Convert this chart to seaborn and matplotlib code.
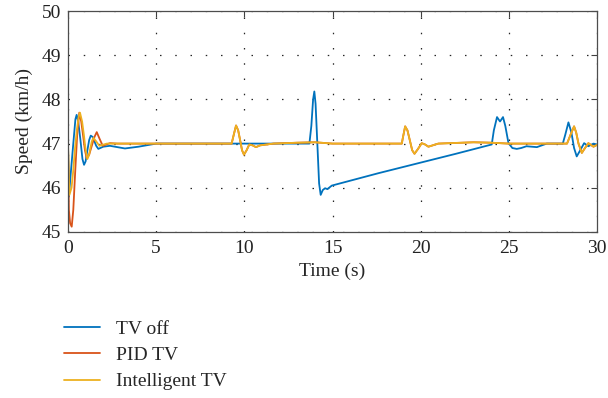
import numpy as np
import pandas as pd
import seaborn as sns
import matplotlib
matplotlib.use("Agg")
import matplotlib.pyplot as plt

# ---------------- data ----------------
series_names = ["TV off", "PID TV", "Intelligent TV"]

t_off = [0, 0.05, 0.15, 0.3, 0.42, 0.49, 0.58, 0.7, 0.82, 0.91, 1.0, 1.1, 1.2, 1.29, 1.4, 1.5, 1.6, 1.72,
         2.0, 2.38, 2.8, 3.23, 4.0, 5.0, 13.69, 13.8, 13.9, 13.97, 14.04, 14.14, 14.24, 14.33, 14.45,
         14.58, 14.71, 14.96, 17.6, 20.0, 22.0, 24.03, 24.15, 24.33, 24.5, 24.67, 24.8, 24.98, 25.2,
         25.45, 25.7, 26.0, 26.59, 27.15, 28.06, 28.2, 28.38, 28.55, 28.7, 28.85, 29.05, 29.27, 29.51,
         29.8, 30.0]
v_off = [47.0, 45.8, 46.3, 47.0, 47.55, 47.65, 47.5, 47.1, 46.65, 46.52, 46.6, 46.85, 47.08, 47.18, 47.15,
         47.05, 46.95, 46.88, 46.93, 46.95, 46.92, 46.89, 46.93, 47.0, 47.0, 47.4, 48.0, 48.18, 47.9,
         47.0, 46.1, 45.84, 45.95, 45.99, 45.97, 46.05, 46.33, 46.57, 46.77, 46.98, 47.3, 47.6, 47.5,
         47.6, 47.4, 47.01, 46.9, 46.88, 46.9, 46.94, 46.92, 47.0, 47.0, 47.2, 47.48, 47.25, 46.9,
         46.71, 46.85, 47.01, 46.94, 47.0, 46.98]

t_pid = [0, 0.05, 0.12, 0.21, 0.3, 0.4, 0.52, 0.64, 0.75, 0.85, 0.96, 1.06, 1.2, 1.35, 1.5, 1.63, 1.8,
         1.97, 2.38, 2.8, 9.28, 9.4, 9.53, 9.65, 9.75, 9.87, 9.98, 10.13, 10.28, 10.47, 10.66, 10.89,
         11.65, 13.0, 14.0, 15.0, 18.93, 19.0, 19.12, 19.25, 19.4, 19.52, 19.65, 19.85, 20.06, 20.25,
         20.44, 21.0, 23.0, 24.0, 25.0, 28.3, 28.5, 28.7, 28.82, 28.95, 29.14, 29.32, 29.51, 29.8, 30.0]
v_pid = [47.0, 45.5, 45.2, 45.12, 45.5, 46.3, 47.2, 47.7, 47.5, 47.2, 46.85, 46.67, 46.75, 46.95,
         47.15, 47.26, 47.1, 46.95, 47.01, 47.0, 47.0, 47.2, 47.41, 47.3, 47.1, 46.85, 46.75, 46.85,
         46.98, 46.96, 46.92, 46.96, 47.0, 47.02, 47.03, 47.0, 47.0, 47.15, 47.39, 47.3, 47.05, 46.85,
         46.77, 46.88, 47.01, 46.98, 46.93, 47.0, 47.03, 47.02, 47.0, 47.0, 47.2, 47.39, 47.25, 47.0,
         46.79, 46.9, 47.01, 46.93, 46.97]

t_int = [0, 0.08, 0.2, 0.3, 0.4, 0.5, 0.6, 0.68, 0.8, 0.9, 1.0, 1.1, 1.2, 1.27, 1.35, 1.44, 1.6,
         1.78, 2.2, 2.8, 9.28, 9.4, 9.53, 9.65, 9.75, 9.87, 9.98, 10.13, 10.28, 10.47, 10.66, 10.89,
         11.65, 13.0, 14.0, 15.0, 18.93, 19.0, 19.12, 19.25, 19.4, 19.52, 19.65, 19.85, 20.06, 20.25,
         20.44, 21.0, 23.0, 24.0, 25.0, 28.3, 28.5, 28.7, 28.82, 28.95, 29.14, 29.32, 29.51, 29.8, 30.0]
v_int = [47.0, 45.84, 46.0, 46.4, 46.9, 47.3, 47.6, 47.7, 47.5, 47.2, 46.85, 46.65, 46.75, 46.9,
         47.05, 47.13, 47.05, 46.95, 47.0, 47.0, 47.0, 47.2, 47.41, 47.3, 47.1, 46.85, 46.75, 46.85,
         46.98, 46.96, 46.92, 46.96, 47.0, 47.02, 47.03, 47.0, 47.0, 47.15, 47.39, 47.3, 47.05, 46.85,
         46.77, 46.88, 47.01, 46.98, 46.93, 47.0, 47.03, 47.02, 47.0, 47.0, 47.2, 47.39, 47.25, 47.0,
         46.79, 46.9, 47.01, 46.93, 46.97]

x_ticks = [0, 5, 10, 15, 20, 25, 30]
y_ticks = [45, 46, 47, 48, 49, 50]
colors = ["#0072BD", "#D95319", "#EDB120"]

# ---------------- build table ----------------
frames = []
for name, tt, vv in zip(series_names, [t_off, t_pid, t_int], [v_off, v_pid, v_int]):
    frames.append(pd.DataFrame({"Time": tt, "Speed": vv, "Series": name}))
df = pd.concat(frames, ignore_index=True)

# ---------------- plot ----------------
sns.set_style("white")
plt.rcParams["font.family"] = ["Liberation Serif", "DejaVu Serif"]

fig = plt.figure(figsize=(6.08, 3.98), dpi=100)
ax = fig.add_axes([68 / 608, 1 - 232 / 398, (597 - 68) / 608, (232 - 11) / 398])

sns.lineplot(data=df, x="Time", y="Speed", hue="Series", hue_order=series_names,
             palette=colors, sort=False, estimator=None, units="Series", linewidth=1.3, ax=ax)

ax.set_xlim(0, 30)
ax.set_ylim(45, 50)
ax.set_xticks(x_ticks)
ax.set_yticks(y_ticks)
ax.set_xlabel("Time (s)", fontsize=14, labelpad=4)
ax.set_ylabel("Speed (km/h)", fontsize=14, labelpad=6)
ax.tick_params(axis="both", direction="in", length=4, width=0.8, colors="0.25",
               labelsize=14, labelcolor="#222222", top=True, right=True, pad=5)
ax.tick_params(axis="x", pad=6)
for s in ax.spines.values():
    s.set_visible(True)
    s.set_color("0.3")
    s.set_linewidth(0.9)
ax.grid(True, color="0.15", linestyle=(0, (1.2, 11)), linewidth=0.9)

handles, labels = ax.get_legend_handles_labels()
if ax.get_legend() is not None:
    ax.get_legend().remove()
fig.legend(handles, labels, loc="upper left", bbox_to_anchor=(64 / 608, 1 - 320 / 398),
           frameon=False, fontsize=14, handlelength=1.85, handletextpad=0.85,
           labelspacing=0.45, borderpad=0, borderaxespad=0)

fig.savefig("out.png", dpi=100)
